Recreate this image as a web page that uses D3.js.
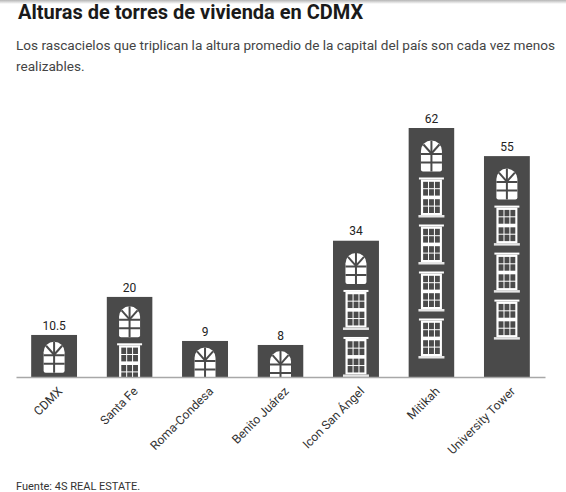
<!DOCTYPE html>
<html>
<head>
<meta charset="utf-8">
<script src="https://cdn.jsdelivr.net/npm/d3@7"></script>
<style>
    body { margin: 0; background: white; }
    text { font-family: Roboto, "Noto Sans", sans-serif; }
</style>
</head>
<body>
<svg id="mainSvg" width="566" height="492"></svg>
<script>
// data
var categories = ["CDMX", "Santa Fe", "Roma-Condesa", "Benito Juárez", "Icon San Ángel", "Mitikah", "University Tower"];
var heights = [10.5, 20, 9, 8, 34, 62, 55];
var valueLabels = ["10.5", "20", "9", "8", "34", "62", "55"];

var titleText = "Alturas de torres de vivienda en CDMX";
var subtitleLines = ["Los rascacielos que triplican la altura promedio de la capital del país son cada vez menos", "realizables."];
var sourceText = "Fuente: 4S REAL ESTATE.";

var barColor = "#4a4a4a";      // building colour
var windowColor = "#ffffff";   // window colour
var axisColor = "#a8a8a8";

window.addEventListener("load", drawChart);

function drawChart()
{
    const svg = d3.select("#mainSvg");
    svg.selectAll("*").remove();

    // grey shadow at the top edge
    const defs = svg.append("defs");
    const grad = defs.append("linearGradient").attr("id", "topShade")
        .attr("x1", 0).attr("x2", 0).attr("y1", 0).attr("y2", 1);
    grad.append("stop").attr("offset", "0%").attr("stop-color", "#b5b5b5");
    grad.append("stop").attr("offset", "100%").attr("stop-color", "#ffffff");
    svg.append("rect").attr("x", 0).attr("y", 0).attr("width", 566).attr("height", 4)
        .attr("fill", "url(#topShade)");

    svg.append("text")
        .text(titleText)
        .attr("x", 18).attr("y", 18.5)
        .attr("font-size", "20px").attr("font-weight", "bold")
        .attr("fill", "#1a1a1a");

    svg.selectAll(".subtitle").data(subtitleLines).join("text")
        .attr("class", "subtitle")
        .text(d => d)
        .attr("x", 16)
        .attr("y", (d, i) => 50 + i * 20.5)
        .attr("font-size", "13.6px")
        .attr("fill", "#444");

    svg.append("text")
        .text(sourceText)
        .attr("x", 16).attr("y", 490)
        .attr("font-size", "11px")
        .attr("fill", "#333");

    const baseY = 377;
    const xScale = d3.scaleBand().domain(categories).range([16, 545])
        .paddingInner(0.39).paddingOuter(0.2);
    const yScale = d3.scaleLinear().domain([0, d3.max(heights)]).range([baseY, 128]);

    const bw = xScale.bandwidth();
    const mainGroup = svg.append("g").attr("id", "maingroup");

    const bars = mainGroup.selectAll(".building").data(categories).join("g")
        .attr("class", "building")
        .attr("transform", (d, i) => `translate(${xScale(d)}, ${yScale(heights[i])})`);

    bars.each(function(d, i) {
        const g = d3.select(this);
        const h = baseY - yScale(heights[i]);
        const clipId = "clip" + i;
        defs.append("clipPath").attr("id", clipId)
            .append("rect").attr("width", bw).attr("height", h);
        g.attr("clip-path", `url(#${clipId})`);
        g.append("rect").attr("width", bw).attr("height", h).attr("fill", barColor);

        // arched window at the top
        const archTop = Math.min(12.5, 4 + h * 0.07);
        drawArch(g.append("g").attr("transform", `translate(${bw / 2}, ${archTop})`));

        // double windows repeated downwards
        let off = archTop + 37;
        while (off + 40 <= h + 8) {
            drawDouble(g.append("g").attr("transform", `translate(${bw / 2}, ${off})`));
            off += 47;
        }
    });

    // value labels
    mainGroup.selectAll(".value").data(categories).join("text")
        .attr("class", "value")
        .text((d, i) => valueLabels[i])
        .attr("x", d => xScale(d) + bw / 2)
        .attr("y", (d, i) => yScale(heights[i]) - 5)
        .attr("text-anchor", "middle")
        .attr("font-size", "12px")
        .attr("fill", "#222");

    // x axis
    const xAxisGroup = mainGroup.append("g")
        .attr("transform", `translate(0, ${baseY})`)
        .call(d3.axisBottom(xScale).tickSize(0).tickPadding(0));
    xAxisGroup.select(".domain").attr("stroke", axisColor).attr("stroke-width", 1.5);
    xAxisGroup.selectAll("text")
        .attr("text-anchor", "end")
        .attr("font-size", "12.2px")
        .attr("font-family", "Roboto, sans-serif")
        .attr("fill", "#333")
        .attr("x", 0).attr("y", 0)
        .attr("dy", "0.35em")
        .attr("transform", "translate(6, 12) rotate(-45)");
}

/**
 * arched window, centred on x = 0, top at y = 0
 */
function drawArch(g)
{
    const r = 10.5, hh = 31;
    g.append("path")
        .attr("d", `M${-r},${r} A${r},${r} 0 0 1 ${r},${r} L${r},${hh - 2} Q${r},${hh} ${r - 2},${hh} L${-r + 2},${hh} Q${-r},${hh} ${-r},${hh - 2} Z`)
        .attr("fill", windowColor);
    const line = (x1, y1, x2, y2) => g.append("line")
        .attr("x1", x1).attr("y1", y1).attr("x2", x2).attr("y2", y2)
        .attr("stroke", barColor).attr("stroke-width", 2);
    line(0, 0, 0, hh);
    line(-r, 13.5, r, 13.5);
    line(-r, 22, r, 22);
    line(0, 13, -8, 4);
    line(0, 13, 8, 4);
}

/**
 * double-hung window with sills, centred on x = 0, top at y = 0
 */
function drawDouble(g)
{
    g.append("rect").attr("x", -12.5).attr("y", 0).attr("width", 25).attr("height", 2)
        .attr("fill", windowColor);
    g.append("rect").attr("x", -10.5).attr("y", 2).attr("width", 21).attr("height", 35.5)
        .attr("fill", windowColor);
    g.append("rect").attr("x", -13).attr("y", 37.5).attr("width", 26).attr("height", 2.5)
        .attr("fill", "#e6e6e6");
    const sashTops = [4.3, 21.7];
    const paneW = 4.9, paneH = 6.4, gap = 1;
    sashTops.forEach(st => {
        for (let r = 0; r < 2; r++) {
            for (let c = 0; c < 3; c++) {
                g.append("rect")
                    .attr("x", -8.3 + c * (paneW + gap))
                    .attr("y", st + r * (paneH + gap))
                    .attr("width", paneW).attr("height", paneH)
                    .attr("fill", barColor);
            }
        }
    });
}
</script>
</body>
</html>
